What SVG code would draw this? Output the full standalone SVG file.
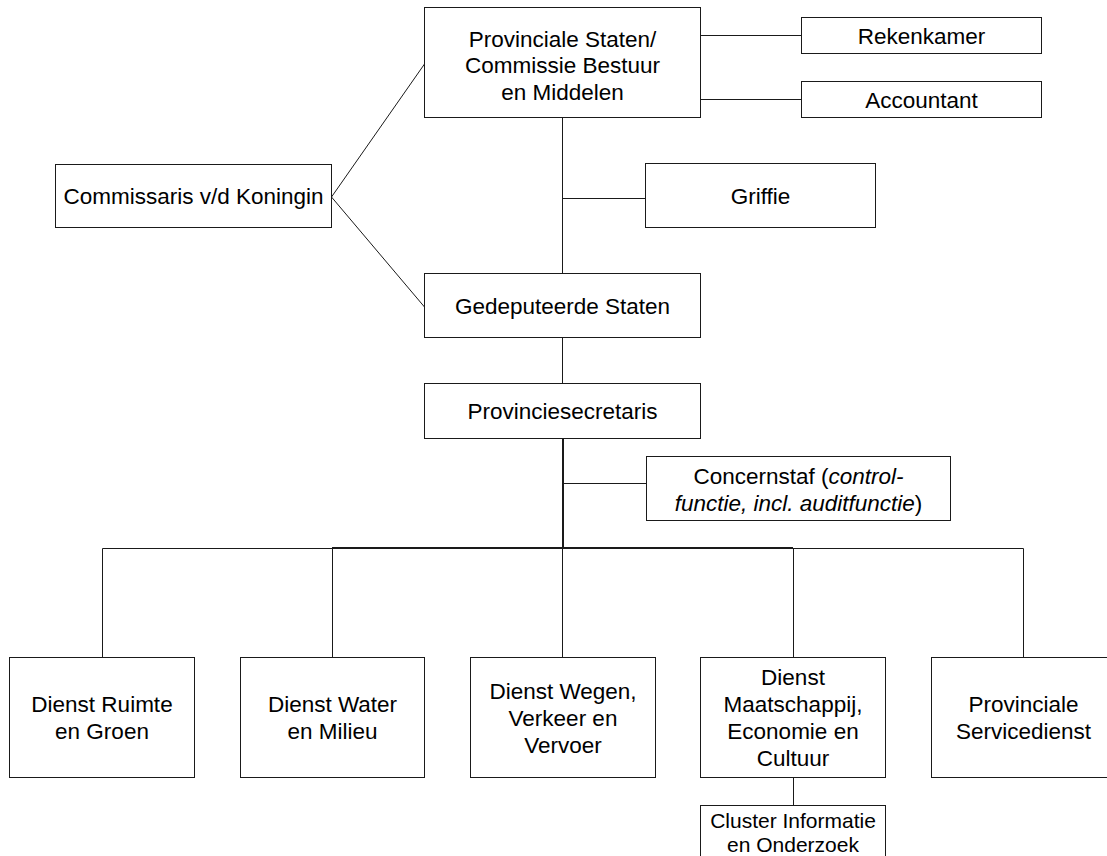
<svg xmlns="http://www.w3.org/2000/svg" width="1107" height="856" viewBox="0 0 1107 856">
  <style>
    .box { fill: #ffffff; stroke: #1a1a1a; stroke-width: 1; }
    .lbl { font-family: "Liberation Sans", Arial, sans-serif; font-size: 22.5px; fill: #000000; text-anchor: middle; }
    .sm { font-size: 21px; }
    .it { font-style: italic; }
    .ln { fill: none; stroke: #1a1a1a; stroke-width: 1; }
    .thick { stroke-width: 2; }
  </style>
  <rect width="1107" height="856" fill="#ffffff"/>

  <!-- connectors -->
  <g id="connectors">
    <path class="ln" d="M700.5 35.5 H801.5"/>
    <path class="ln" d="M700.5 99.5 H801.5"/>
    <path class="ln" d="M562.5 117.5 V273.5"/>
    <path class="ln" d="M562.5 198.5 H645.5"/>
    <path class="ln" d="M424.5 64 L331.5 197 L424.5 307"/>
    <path class="ln" d="M562.5 337.5 V383.5"/>
    <path class="ln thick" d="M563 438.5 V548"/>
    <path class="ln" d="M562.5 483.5 H646.5"/>
    <path class="ln" d="M102.5 548.5 H332"/>
    <path class="ln thick" d="M332 548 H793"/>
    <path class="ln" d="M793 548.5 H1023.5"/>
    <path class="ln" d="M102.5 548.5 V657.5"/>
    <path class="ln" d="M332.5 548.5 V657.5"/>
    <path class="ln" d="M562.5 548.5 V657.5"/>
    <path class="ln" d="M793.5 548.5 V657.5"/>
    <path class="ln" d="M1023.5 548.5 V657.5"/>
    <path class="ln" d="M793.5 777.5 V805.5"/>
  </g>

  <g id="provinciale-staten">
    <rect class="box" x="424.5" y="7.5" width="276" height="110"/>
    <text class="lbl" x="562.5" y="46.5">Provinciale Staten/</text>
    <text class="lbl" x="562.5" y="73">Commissie Bestuur</text>
    <text class="lbl" x="562.5" y="99.5">en Middelen</text>
  </g>

  <g id="rekenkamer">
    <rect class="box" x="801.5" y="17.5" width="240" height="36"/>
    <text class="lbl" x="921.5" y="43.5">Rekenkamer</text>
  </g>

  <g id="accountant">
    <rect class="box" x="801.5" y="81.5" width="240" height="36"/>
    <text class="lbl" x="921.5" y="107.5">Accountant</text>
  </g>

  <g id="commissaris">
    <rect class="box" x="55.5" y="164.5" width="276" height="63"/>
    <text class="lbl" x="193.5" y="204">Commissaris v/d Koningin</text>
  </g>

  <g id="griffie">
    <rect class="box" x="645.5" y="163.5" width="230" height="64"/>
    <text class="lbl" x="760.5" y="203.5">Griffie</text>
  </g>

  <g id="gedeputeerde-staten">
    <rect class="box" x="424.5" y="273.5" width="276" height="64"/>
    <text class="lbl" x="562.5" y="313.5">Gedeputeerde Staten</text>
  </g>

  <g id="provinciesecretaris">
    <rect class="box" x="424.5" y="383.5" width="276" height="55"/>
    <text class="lbl" x="562.5" y="419">Provinciesecretaris</text>
  </g>

  <g id="concernstaf">
    <rect class="box" x="646.5" y="456.5" width="304" height="64"/>
    <text class="lbl" x="798.5" y="483.5">Concernstaf (<tspan class="it">control-</tspan></text>
    <text class="lbl" x="798.5" y="510.5"><tspan class="it">functie, incl. auditfunctie</tspan>)</text>
  </g>

  <g id="dienst-ruimte">
    <rect class="box" x="9.5" y="657.5" width="185" height="120"/>
    <text class="lbl" x="102" y="712">Dienst Ruimte</text>
    <text class="lbl" x="102" y="739">en Groen</text>
  </g>

  <g id="dienst-water">
    <rect class="box" x="240.5" y="657.5" width="184" height="120"/>
    <text class="lbl" x="332.5" y="712">Dienst Water</text>
    <text class="lbl" x="332.5" y="739">en Milieu</text>
  </g>

  <g id="dienst-wegen">
    <rect class="box" x="470.5" y="657.5" width="185" height="120"/>
    <text class="lbl" x="563" y="698.5">Dienst Wegen,</text>
    <text class="lbl" x="563" y="725.5">Verkeer en</text>
    <text class="lbl" x="563" y="752.5">Vervoer</text>
  </g>

  <g id="dienst-maatschappij">
    <rect class="box" x="700.5" y="657.5" width="185" height="120"/>
    <text class="lbl" x="793" y="685">Dienst</text>
    <text class="lbl" x="793" y="712">Maatschappij,</text>
    <text class="lbl" x="793" y="739">Economie en</text>
    <text class="lbl" x="793" y="766">Cultuur</text>
  </g>

  <g id="provinciale-servicedienst">
    <rect class="box" x="931.5" y="657.5" width="185" height="120"/>
    <text class="lbl" x="1023.5" y="712">Provinciale</text>
    <text class="lbl" x="1023.5" y="739">Servicedienst</text>
  </g>

  <g id="cluster-informatie">
    <rect class="box" x="700.5" y="805.5" width="185" height="70"/>
    <text class="lbl sm" x="793" y="828">Cluster Informatie</text>
    <text class="lbl sm" x="793" y="852">en Onderzoek</text>
  </g>
</svg>
